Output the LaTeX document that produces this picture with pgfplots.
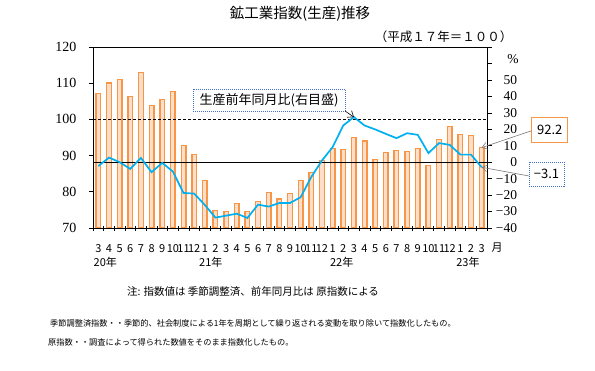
\documentclass[border=0pt]{standalone}
\usepackage{fontspec}
\setmainfont{Liberation Serif}
\newfontfamily\jp{Noto Sans CJK JP}
\usepackage{pgfplots}
\usepackage{pgfplotstable}
\pgfplotsset{compat=1.18}
\usetikzlibrary{arrows.meta}
\definecolor{barorange}{RGB}{247,150,70}
\definecolor{barfill}{RGB}{252,222,203}
\definecolor{linecyan}{RGB}{0,176,240}
\definecolor{boxblue}{RGB}{68,114,196}
\definecolor{arrowgray}{RGB}{120,120,120}

\pgfplotstableread{
i idx yoy
0 107.2 -2.4
1 110.1 2.8
2 111.1 0.0
3 106.3 -4.1
4 113.0 2.6
5 103.8 -6.1
6 105.5 -0.4
7 107.7 -5.7
8 92.8 -18.7
9 90.3 -19.1
10 83.1 -26.0
11 74.8 -33.7
12 74.6 -32.5
13 76.8 -31.3
14 74.6 -33.9
15 77.4 -25.8
16 79.8 -27.0
17 78.0 -24.8
18 79.6 -24.8
19 83.2 -21.3
20 85.4 -9.0
21 88.6 1.0
22 92.0 9.1
23 91.7 22.3
24 95.0 27.4
25 94.0 22.3
26 89.0 19.9
27 90.9 17.2
28 91.4 14.6
29 91.2 17.6
30 92.0 16.6
31 87.3 5.5
32 94.5 11.6
33 98.0 10.5
34 95.8 4.6
35 95.5 4.6
36 92.2 -3.1
}\data

\begin{document}
\begin{tikzpicture}
\useasboundingbox (0pt,0pt) rectangle (595pt,371pt);

\begin{axis}[
  at={(93pt,143pt)}, anchor=south west,
  scale only axis, width=394pt, height=181pt,
  xmin=-0.5, xmax=36.5, ymin=70, ymax=120,
  ytick={70,80,...,120},
  ytick pos=left, xtick pos=bottom,
  xtick={0,...,36},
  xticklabels={3,4,5,6,7,8,9,10,11,12,1,2,3,4,5,6,7,8,9,10,11,12,1,2,3,4,5,6,7,8,9,10,11,12,1,2,3},
  minor xtick={-0.5,0.5,...,36.5},
  tick align=outside,
  major tick length=4pt, minor tick length=5pt,
  major x tick style={draw=none},
  minor x tick style={yshift=2pt, black, line width=0.6pt},
  y tick style={black, line width=0.6pt},
  axis line style={line width=0.8pt},
  /pgf/number format/assume math mode=true,
  yticklabel style={font=\fontsize{14}{14}\selectfont, xshift=-9pt},
  xticklabel style={font=\jp\fontsize{11}{11}\selectfont, yshift=-9pt, inner xsep=0pt},
  clip=true,
]
\addplot[ybar, bar width=4.6pt, draw=barorange, line width=1.4pt, fill=barfill] table[x=i,y=idx]{\data};
\addplot[black, dash pattern=on 3pt off 2pt, line width=0.7pt] coordinates {(-0.5,100) (36.5,100)};
\coordinate (bartop) at (axis cs:36,92.2);
\coordinate (yr20) at (axis cs:-0.45,70);
\coordinate (yr21) at (axis cs:9.45,70);
\coordinate (yr22) at (axis cs:21.75,70);
\coordinate (yr23) at (axis cs:33.6,70);
\end{axis}

\begin{axis}[
  at={(93pt,143pt)}, anchor=south west,
  scale only axis, width=394pt, height=181pt,
  xmin=-0.5, xmax=36.5, ymin=-40, ymax=70,
  axis x line=none, axis y line*=right,
  ytick={-40,-30,...,70},
  yticklabels={−40,−30,−20,−10,0,10,20,30,40,50,,},
  tick align=outside, major tick length=5pt,
  y tick style={black, line width=0.6pt},
  axis line style={line width=0.8pt},
  yticklabel style={font=\fontsize{13.5}{13.5}\selectfont, anchor=west, text width=21.5pt, align=right},
]
\addplot[black, line width=0.8pt] coordinates {(-0.5,0) (36.5,0)};
\addplot[linecyan, line width=1.7pt] table[x=i,y=yoy]{\data};
\coordinate (peak) at (axis cs:24,27.4);
\coordinate (lineend) at (axis cs:36,-3.1);
\end{axis}

% titles
\node[font=\jp\fontsize{14.5}{14.5}\selectfont] at (300pt,357.5pt) {鉱工業指数(生産)推移};
\node[font=\jp\fontsize{12.5}{12.5}\selectfont] at (443.5pt,334pt) {（平成１７年＝１００）};
\node[font=\fontsize{13.5}{13.5}\selectfont] at (513pt,312pt) {\%};

% year labels and month unit
\foreach \c/\t in {yr20/20年,yr21/21年,yr22/22年,yr23/23年}{
  \node[font=\jp\fontsize{11}{11}\selectfont, anchor=west, inner sep=0pt] at ([yshift=-34pt]\c) {\t};
}
\node[font=\jp\fontsize{11}{11}\selectfont] at (497pt,123pt) {月};

% notes
\node[font=\jp\fontsize{10.5}{10.5}\selectfont] at (253pt,79pt) {注: 指数値は 季節調整済、前年同月比は 原指数による};
\node[font=\jp\fontsize{8.2}{8.2}\selectfont, anchor=west, inner sep=0pt] at (50pt,48pt) {季節調整済指数・・季節的、社会制度による1年を周期として繰り返される変動を取り除いて指数化したもの。};
\node[font=\jp\fontsize{8.2}{8.2}\selectfont, anchor=west, inner sep=0pt] at (48pt,29pt) {原指数・・調査によって得られた数値をそのまま指数化したもの。};

% annotation boxes
\node[draw=boxblue, dash pattern=on 1pt off 1pt, line width=0.7pt, fill=white, minimum width=152pt, minimum height=22pt, inner sep=0pt, font=\jp\fontsize{13}{13}\selectfont] at (269pt,271pt) {生産前年同月比(右目盛)};
\draw[black, line width=0.6pt, -{Straight Barb[length=5pt,width=8pt]}] (345pt,260pt) -- (peak);

\node[draw=barorange, line width=0.8pt, fill=white, minimum width=36pt, minimum height=25pt, inner sep=0pt, font=\jp\fontsize{13}{13}\selectfont] at (549.7pt,241.5pt) {92.2};
\draw[arrowgray, line width=0.6pt, -{Straight Barb[length=5pt,width=7pt]}] (531.7pt,240.3pt) -- (bartop);

\node[draw=boxblue, dash pattern=on 1pt off 1pt, line width=0.7pt, fill=white, minimum width=35pt, minimum height=24pt, inner sep=0pt, font=\jp\fontsize{13}{13}\selectfont] at (546.5pt,197pt) {−3.1};
\draw[arrowgray, line width=0.6pt, -{Straight Barb[length=5pt,width=7pt]}] (529pt,195pt) -- (lineend);
\end{tikzpicture}
\end{document}
